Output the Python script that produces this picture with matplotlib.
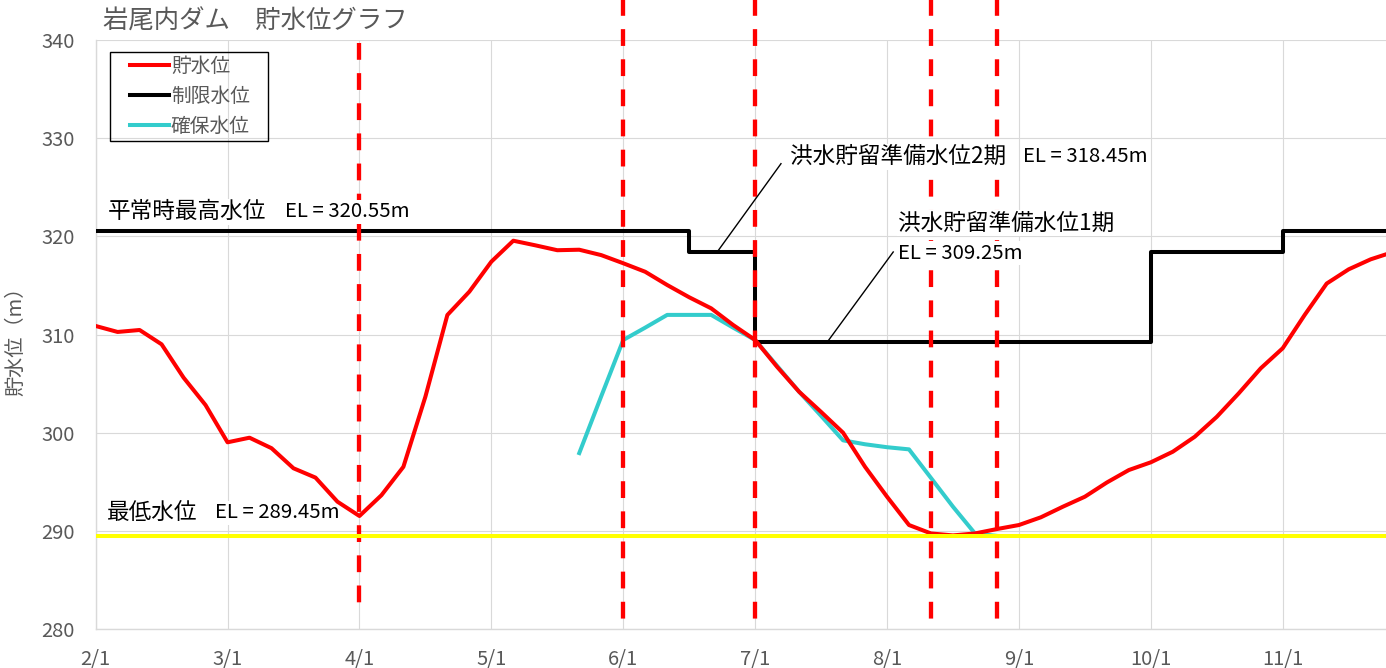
import matplotlib
matplotlib.use("Agg")
import matplotlib.pyplot as plt
from matplotlib.patches import Rectangle
import numpy as np

plt.rcParams['font.family'] = ['Noto Sans CJK JP', 'DejaVu Sans']

GRAY = '#595959'

# x axis: months counted from 2/1, one value per pentad (1/6 month)
month_labels = ["2/1", "3/1", "4/1", "5/1", "6/1", "7/1", "8/1", "9/1", "10/1", "11/1"]

# 貯水位 (2/1 .. 11/26, every pentad)
level = [310.87, 310.26, 310.46, 309.0, 305.6, 302.8,
         299.0, 299.47, 298.4, 296.35, 295.4, 292.94,
         291.48, 293.6, 296.5, 303.65, 311.99, 314.37,
         317.43, 319.57, 319.1, 318.6, 318.65, 318.1,
         317.27, 316.4, 315.05, 313.8, 312.67, 310.97,
         309.44, 306.7, 304.16, 302.1, 299.98, 296.5,
         293.45, 290.56, 289.7, 289.5, 289.7, 290.15,
         290.56, 291.35, 292.43, 293.45, 294.9, 296.17,
         296.96, 298.04, 299.57, 301.6, 304.0, 306.55,
         308.6, 312.0, 315.2, 316.65, 317.67, 318.4]

# 確保水位 (5/21 .. 8/26)
secure_first = 22
secure = [297.9, 303.7, 309.44, 310.7, 312.0, 312.0,
          312.0, 310.7, 309.44, 306.8, 304.16, 301.7,
          299.2, 298.8, 298.5, 298.28, 295.36, 292.43,
          289.7, 289.45]

# 制限水位 (step changes, in months from 2/1)
limit_x = [0, 4.5, 5, 8, 9, 9.9]
limit_y = [320.55, 318.45, 309.25, 318.45, 320.55, 320.55]

min_level = 289.45

# red dashed reference dates: 4/1, 6/1, 7/1, 8/11, 8/26
mark_x = [2, 4, 5, 6 + 2 / 6, 6 + 5 / 6]

x_level = np.arange(len(level)) / 6
x_secure = (secure_first + np.arange(len(secure))) / 6

fig = plt.figure(figsize=(13.86, 6.68), dpi=100)
ax = fig.add_axes([0.069, 0.0591, 0.931, 0.8803])

ax.plot(x_secure, secure, color='#33CCCC', lw=2.9, label='確保水位', zorder=3)
ax.plot(limit_x, limit_y, color='black', lw=2.9, drawstyle='steps-post',
        label='制限水位', zorder=5)
ax.plot(x_level, level, color='#FF0000', lw=2.9, label='貯水位', zorder=9.5)
ax.axhline(min_level, color='#FFFF00', lw=2.9, zorder=9.6)

for i, xm in enumerate(mark_x):
    top = 339.7 if i == 0 else 344.2
    bottom = 281.7 if i == 0 else 280.9
    ax.plot([xm, xm], [top, bottom], color='#FF0000', lw=3.1,
            dashes=(3.9, 3.1), clip_on=False, zorder=7)

ax.set_xlim(0, 9.783)
ax.set_ylim(280, 340)
ax.set_xticks(range(len(month_labels)))
ax.set_xticklabels(month_labels)
ax.set_yticks(range(280, 341, 10))
ax.tick_params(length=0, labelsize=14.5, labelcolor=GRAY)
ax.tick_params(axis='y', pad=15)
ax.tick_params(axis='x', pad=15)
ax.grid(True, color='#D9D9D9', lw=0.8)
ax.set_axisbelow(True)
for side in ('top', 'right'):
    ax.spines[side].set_visible(False)
for side in ('left', 'bottom'):
    ax.spines[side].set_color('#D9D9D9')
    ax.spines[side].set_linewidth(1)

# legend: entries without frame, frame drawn as a separate box
handles, labels = ax.get_legend_handles_labels()
order = [2, 1, 0]
leg = ax.legend([handles[i] for i in order], [labels[i] for i in order],
                loc='upper left', bbox_to_anchor=(130 / 1386, 1 - 55.5 / 668),
                bbox_transform=fig.transFigure, borderaxespad=0, borderpad=0,
                frameon=False, fontsize=14.2, handlelength=2.0,
                handletextpad=0.08, labelspacing=0.47, labelcolor=GRAY)
leg.set_zorder(10)
fig.patches.append(Rectangle((110 / 1386, 1 - 141 / 668), 158 / 1386, 89.3 / 668,
                             transform=fig.transFigure, facecolor='none',
                             edgecolor='black', lw=1, zorder=10))

box = dict(facecolor='white', edgecolor='none', pad=1)
jp = dict(fontsize=16.3, ha='left', va='center', bbox=box, zorder=9)
el = dict(fontsize=14.7, ha='left', va='center', bbox=box, zorder=9)
ax.text(0.093, 322.53, '平常時最高水位', **jp)
ax.text(1.435, 322.53, 'EL = 320.55m', **el)
ax.text(0.083, 291.79, '最低水位', **jp)
ax.text(0.9045, 291.79, 'EL = 289.45m', **el)
ax.text(5.264, 328.14, '洪水貯留準備水位2期', **jp)
ax.text(7.033, 328.14, 'EL = 318.45m', **el)
ax.text(6.085, 321.35, '洪水貯留準備水位1期', **jp)
ax.text(6.085, 318.29, 'EL = 309.25m', **el)
ax.plot([5.196, 4.714], [327.43, 318.45], color='black', lw=1, zorder=8)
ax.plot([6.047, 5.548], [318.42, 309.25], color='black', lw=1, zorder=8)

fig.text(103 / 1386, 1 - 21.7 / 668, '岩尾内ダム　貯水位グラフ', fontsize=18.3,
         color=GRAY, ha='left', va='center')
fig.text(16 / 1386, 1 - 336 / 668, '貯水位（m）', fontsize=14.5, color=GRAY,
         rotation=90, ha='center', va='center')

fig.savefig('out.png', dpi=100)
